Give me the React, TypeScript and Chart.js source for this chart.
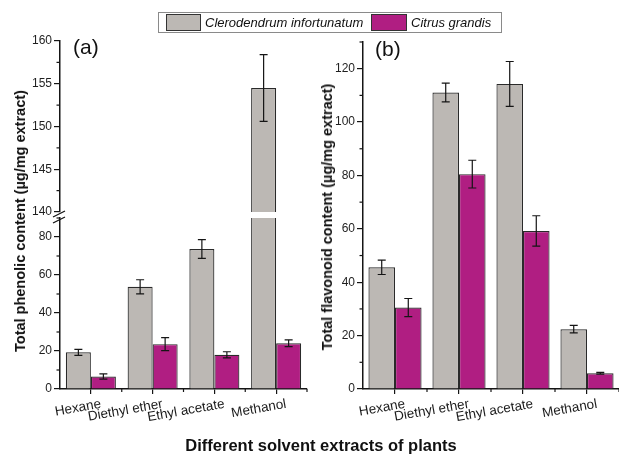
import React, { useEffect, useRef } from 'react';
import { Chart, registerables } from 'chart.js';

Chart.register(...registerables);

const FONT = "'Liberation Sans', Arial, Helvetica, sans-serif";

// ---- data ----
const categories = ['Hexane', 'Diethyl ether', 'Ethyl acetate', 'Methanol'];
const seriesNames = ['Clerodendrum infortunatum', 'Citrus grandis'];
const seriesColors = ['#bcb8b4', '#b01e82'];

const phenolicClerodendrum = [19.3, 53.8, 73.7, 154.5];
const phenolicClerodendrumErr = [1.6, 3.7, 4.9, 3.9];
const phenolicCitrus = [6.6, 23.6, 18.0, 24.1];
const phenolicCitrusErr = [1.4, 3.4, 1.6, 1.8];

const flavonoidClerodendrum = [45.6, 111.1, 114.3, 22.4];
const flavonoidClerodendrumErr = [2.7, 3.5, 8.4, 1.4];
const flavonoidCitrus = [30.5, 80.5, 59.2, 5.9];
const flavonoidCitrusErr = [3.4, 5.2, 5.7, 0.3];

// axis ranges: [min, max, majorStep, minorStep]
const phenolicUpperAxis = [140, 160, 5, 2.5];
const phenolicLowerAxis = [0, 90, 20, 10];
const flavonoidAxis = [0, 130, 20, 10];

const yTitleA = 'Total phenolic content (\u00b5g/mg extract)';
const yTitleB = 'Total flavonoid content (\u00b5g/mg extract)';
const xTitle = 'Different solvent extracts of plants';

const W = 619;
const H = 455;

const errorBarPlugin = {
  id: 'errorBars',
  afterDatasetsDraw(chart: any) {
    const ctx = chart.ctx;
    const area = chart.chartArea;
    const ys = chart.scales.y;
    ctx.save();
    ctx.beginPath();
    ctx.rect(area.left, area.top - 1, area.right - area.left, area.bottom - area.top + 2);
    ctx.clip();
    ctx.strokeStyle = '#151515';
    ctx.lineWidth = 1.2;
    chart.data.datasets.forEach((ds: any, di: number) => {
      const errs = ds.errors;
      if (!errs) return;
      const meta = chart.getDatasetMeta(di);
      meta.data.forEach((bar: any, i: number) => {
        const v = ds.data[i];
        if (v == null) return;
        const e = errs[i];
        const x = bar.x;
        const yt = ys.getPixelForValue(v + e);
        const yb = ys.getPixelForValue(v - e);
        ctx.beginPath();
        ctx.moveTo(x, yt);
        ctx.lineTo(x, yb);
        ctx.moveTo(x - 4, yt);
        ctx.lineTo(x + 4, yt);
        ctx.moveTo(x - 4, yb);
        ctx.lineTo(x + 4, yb);
        ctx.stroke();
      });
    });
    ctx.restore();
  },
};

const axisExtrasPlugin = {
  id: 'axisExtras',
  afterDraw(chart: any, _args: any, opts: any) {
    const ctx = chart.ctx;
    const area = chart.chartArea;
    ctx.save();
    ctx.strokeStyle = '#151515';
    ctx.lineWidth = 1.2;
    const ys = chart.scales.y;
    if (opts.yMinor) {
      const [mn, mx, , minor] = opts.yMinor;
      for (let v = mn + minor; v <= mx + 1e-9; v += 2 * minor) {
        const p = ys.getPixelForValue(v);
        ctx.beginPath();
        ctx.moveTo(area.left, p);
        ctx.lineTo(area.left - 3.5, p);
        ctx.stroke();
      }
    }
    if (opts.xMinor) {
      const xs = chart.scales.x;
      const n = chart.data.labels.length;
      for (let i = 1; i <= n; i++) {
        const p = xs.getPixelForValue(i - 0.5);
        ctx.beginPath();
        ctx.moveTo(p, area.bottom);
        ctx.lineTo(p, area.bottom + 3);
        ctx.stroke();
      }
    }
    if (opts.breakMarks) {
      const l = area.left;
      const t = area.top;
      ctx.lineWidth = 1.3;
      ctx.beginPath();
      ctx.moveTo(l - 7, t - 1);
      ctx.lineTo(l + 5, t - 7);
      ctx.moveTo(l - 7, t + 5);
      ctx.lineTo(l + 5, t - 1);
      ctx.stroke();
    }
    ctx.restore();
  },
};

type PanelOpts = {
  clero: (number | null)[];
  cleroErr: number[];
  citrus: (number | null)[];
  citrusErr: number[];
  axis: number[];
  area: { left: number; top: number; right: number; bottom: number };
  showX: boolean;
  breakMarks?: boolean;
  catPct: number;
};

const Y_W = 45;
const X_H = 40;

function makeConfig(o: PanelOpts): any {
  const [mn, mx, step] = o.axis;
  return {
    type: 'bar',
    data: {
      labels: categories,
      datasets: [
        {
          label: seriesNames[0],
          data: o.clero,
          errors: o.cleroErr,
          backgroundColor: seriesColors[0],
          borderColor: '#2a2a2a',
          borderWidth: 1.2,
          categoryPercentage: o.catPct,
          barPercentage: 1.0,
          clip: 0,
        },
        {
          label: seriesNames[1],
          data: o.citrus,
          errors: o.citrusErr,
          backgroundColor: seriesColors[1],
          borderColor: '#2a2a2a',
          borderWidth: 1.2,
          categoryPercentage: o.catPct,
          barPercentage: 1.0,
          clip: 0,
        },
      ],
    },
    options: {
      responsive: false,
      animation: false,
      devicePixelRatio: 1,
      events: [],
      layout: {
        padding: {
          left: o.area.left - Y_W,
          top: o.area.top,
          right: W - o.area.right,
          bottom: H - o.area.bottom - (o.showX ? X_H : 0),
        },
      },
      plugins: {
        legend: { display: false },
        tooltip: { enabled: false },
        title: { display: false },
        axisExtras: { yMinor: o.axis, xMinor: o.showX, breakMarks: !!o.breakMarks },
      },
      scales: {
        x: {
          display: o.showX,
          offset: true,
          afterFit: (s: any) => {
            s.height = o.showX ? X_H : 0;
          },
          border: { display: true, color: '#151515', width: 1.5 },
          grid: {
            display: true,
            drawOnChartArea: false,
            drawTicks: true,
            tickLength: 5,
            offset: false,
            color: '#151515',
            lineWidth: 1.2,
          },
          ticks: {
            autoSkip: false,
            minRotation: 10,
            maxRotation: 10,
            labelOffset: 10,
            padding: 2,
            color: '#1a1a1a',
            font: { family: FONT, size: 13.5 },
          },
        },
        y: {
          min: mn,
          max: mx,
          afterFit: (s: any) => {
            s.width = Y_W;
          },
          border: { display: true, color: '#151515', width: 1.5 },
          grid: {
            display: true,
            drawOnChartArea: false,
            drawTicks: true,
            tickLength: 6,
            color: '#151515',
            lineWidth: 1.2,
          },
          ticks: {
            stepSize: step,
            includeBounds: false,
            padding: 2,
            color: '#1f1f1f',
            font: { family: FONT, size: 12 },
          },
        },
      },
    },
    plugins: [errorBarPlugin, axisExtrasPlugin],
  };
}

const canvasStyle: React.CSSProperties = { position: 'absolute', left: 0, top: 0, width: W, height: H };

export default function App() {
  const refA1 = useRef<HTMLCanvasElement>(null);
  const refA2 = useRef<HTMLCanvasElement>(null);
  const refB = useRef<HTMLCanvasElement>(null);

  useEffect(() => {
    const upperMin = phenolicUpperAxis[0];
    const charts = [
      new Chart(
        refA1.current as HTMLCanvasElement,
        makeConfig({
          clero: phenolicClerodendrum.map((v) => (v >= upperMin ? v : null)),
          cleroErr: phenolicClerodendrumErr,
          citrus: phenolicCitrus.map((v) => (v >= upperMin ? v : null)),
          citrusErr: phenolicCitrusErr,
          axis: phenolicUpperAxis,
          area: { left: 60, top: 41, right: 307, bottom: 212 },
          showX: false,
          catPct: 0.81,
        })
      ),
      new Chart(
        refA2.current as HTMLCanvasElement,
        makeConfig({
          clero: phenolicClerodendrum,
          cleroErr: phenolicClerodendrumErr,
          citrus: phenolicCitrus,
          citrusErr: phenolicCitrusErr,
          axis: phenolicLowerAxis,
          area: { left: 60, top: 218, right: 307, bottom: 389 },
          showX: true,
          breakMarks: true,
          catPct: 0.81,
        })
      ),
      new Chart(
        refB.current as HTMLCanvasElement,
        makeConfig({
          clero: flavonoidClerodendrum,
          cleroErr: flavonoidClerodendrumErr,
          citrus: flavonoidCitrus,
          citrusErr: flavonoidCitrusErr,
          axis: flavonoidAxis,
          area: { left: 363, top: 42, right: 619, bottom: 389 },
          showX: true,
          catPct: 0.83,
        })
      ),
    ];
    return () => charts.forEach((c) => c.destroy());
  }, []);

  const yTitleStyle = (cx: number, cy: number): React.CSSProperties => ({
    position: 'absolute',
    left: cx,
    top: cy,
    transform: 'translate(-50%, -50%) rotate(-90deg)',
    whiteSpace: 'nowrap',
    fontWeight: 'bold',
    fontSize: 14.5,
    lineHeight: '16px',
    color: '#111',
  });

  return (
    <div
      style={{
        position: 'fixed',
        left: 0,
        top: 0,
        width: W,
        height: H,
        background: '#fff',
        overflow: 'hidden',
        fontFamily: FONT,
      }}
    >
      <canvas ref={refA1} width={W} height={H} style={canvasStyle} />
      <canvas ref={refA2} width={W} height={H} style={canvasStyle} />
      <canvas ref={refB} width={W} height={H} style={canvasStyle} />

      <div style={{ position: 'absolute', left: 0, top: 0, width: 0, height: 0 }}>
        <div style={yTitleStyle(20, 221)}>{yTitleA}</div>
      </div>
      <div style={yTitleStyle(327, 217)}>{yTitleB}</div>

      <div style={{ position: 'absolute', left: 73, top: 35, fontSize: 21, lineHeight: '24px', color: '#111' }}>(a)</div>
      <div style={{ position: 'absolute', left: 375, top: 37, fontSize: 21, lineHeight: '24px', color: '#111' }}>(b)</div>

      <div
        style={{
          position: 'absolute',
          left: 321,
          top: 445,
          transform: 'translate(-50%, -50%)',
          whiteSpace: 'nowrap',
          fontWeight: 'bold',
          fontSize: 16.5,
          lineHeight: '19px',
          color: '#111',
        }}
      >
        {xTitle}
      </div>

      <div
        style={{
          position: 'absolute',
          left: 158,
          top: 12,
          width: 344,
          height: 21,
          boxSizing: 'border-box',
          border: '1px solid #8a8a8a',
          background: '#fff',
        }}
      >
        <div
          style={{
            position: 'absolute',
            left: 7,
            top: 1,
            width: 35,
            height: 17,
            boxSizing: 'border-box',
            background: seriesColors[0],
            border: '1.5px solid #333',
          }}
        />
        <div style={{ position: 'absolute', left: 46, top: 1, fontStyle: 'italic', fontSize: 13, lineHeight: '17px', whiteSpace: 'nowrap', color: '#111' }}>
          {seriesNames[0]}
        </div>
        <div
          style={{
            position: 'absolute',
            left: 212,
            top: 1,
            width: 36,
            height: 17,
            boxSizing: 'border-box',
            background: seriesColors[1],
            border: '1.5px solid #333',
          }}
        />
        <div style={{ position: 'absolute', left: 252, top: 1, fontStyle: 'italic', fontSize: 13, lineHeight: '17px', whiteSpace: 'nowrap', color: '#111' }}>
          {seriesNames[1]}
        </div>
      </div>
    </div>
  );
}
